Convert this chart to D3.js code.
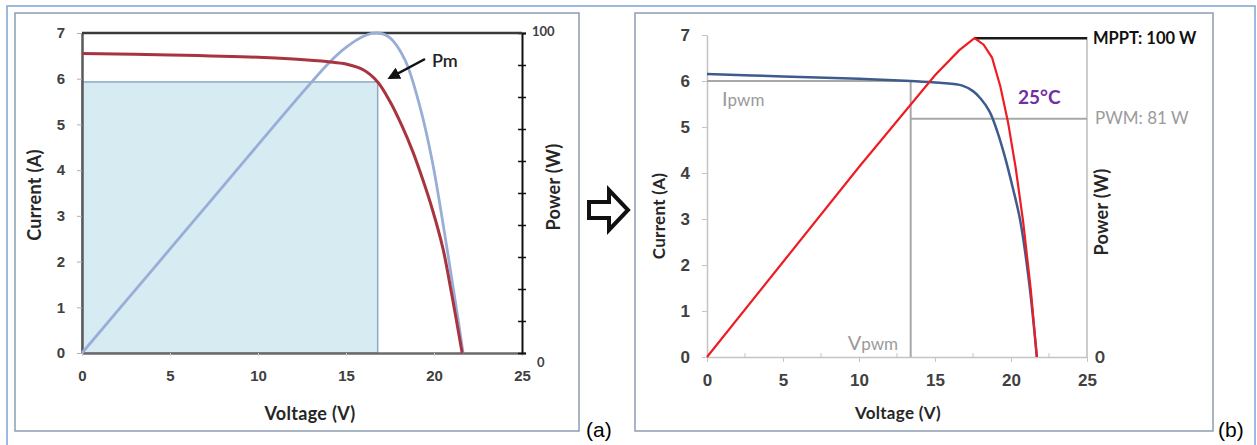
<!DOCTYPE html>
<html lang="en">
<head>
<meta charset="UTF-8">
<title>PV curves: PWM vs MPPT</title>
<script src="https://d3js.org/d3.v7.min.js"></script>
<style>
    body { margin: 0; background: #fff; font-family: Lato, "Open Sans", Arial, sans-serif; }
    .tick-label { font-weight: bold; fill: #404040; }
    .axis-title { font-weight: bold; fill: #262626; letter-spacing: 0.3px; }
</style>
</head>
<body>
<svg width="1257" height="445"></svg>
<script>
// ---- panel (a) data ----
const ivVoltA    = [0, 5, 10, 12, 14, 15, 16, 16.8, 17.5, 18.2, 18.8, 19.4, 19.9, 20.5, 21.0, 21.6];
const ivCurrentA = [6.55, 6.52, 6.47, 6.43, 6.37, 6.32, 6.19, 5.93, 5.5, 4.95, 4.4, 3.75, 3.15, 2.3, 1.3, 0];
const pvVoltA    = [0, 4, 8, 12, 14, 15, 16, 16.8, 17.5, 18.35, 19.2, 19.9, 20.7, 21.3, 21.65];
const pvPowerA   = [0, 26, 52, 78, 90.5, 95.5, 99, 100, 98.5, 91.6, 77, 60, 34, 13, 0];
const pmVolt = 16.8, pmCurrent = 5.93;

// ---- panel (b) data ----
const ivVoltB    = [0, 5, 10, 13.4, 15.3, 16.8, 17.5, 18.0, 18.6, 19.1, 19.6, 20.1, 20.6, 21.2, 21.7];
const ivCurrentB = [6.15, 6.1, 6.05, 6.0, 5.96, 5.9, 5.78, 5.62, 5.33, 4.9, 4.35, 3.7, 2.98, 1.6, 0];
const pvVoltB    = [0, 5, 10, 15, 16.6, 17.6, 18.2, 18.75, 19.3, 19.8, 20.3, 20.8, 21.3, 21.7];
const pvPowerB   = [0, 29.5, 59, 87.5, 95.3, 99, 97, 93, 84, 73, 59, 42, 21, 0];
const vPwm = 13.4, iPwm = 6.0, pwmLevel = 74;   // pwm power line as drawn
const mpptVolt = 17.6, mpptPower = 99;

const voltTicks = [0, 5, 10, 15, 20, 25];
const currentTicks = [0, 1, 2, 3, 4, 5, 6, 7];
const powerTicksA = d3.range(0, 101, 10);

const svg = d3.select("svg");
const intFmt = d3.format("d");

// outer border + panel frames
svg.append("path").attr("d", "M7,446 V6 H1255 V446")
    .attr("fill", "none").attr("stroke", "#7aa4d8").attr("stroke-width", 1.5);
svg.append("rect").attr("x", 15).attr("y", 13).attr("width", 564).attr("height", 418)
    .attr("fill", "none").attr("stroke", "#8d9cb2").attr("stroke-width", 1.5);
svg.append("rect").attr("x", 635).attr("y", 13).attr("width", 578).attr("height", 418)
    .attr("fill", "none").attr("stroke", "#8d9cb2").attr("stroke-width", 1.5);

// =================== panel (a) ===================
const xA = d3.scaleLinear().domain([0, 25]).range([82, 522]);
const yA = d3.scaleLinear().domain([0, 7]).range([353, 33]);
const pA = d3.scaleLinear().domain([0, 100]).range([353, 33]);
const gA = svg.append("g");

// shaded Pm rectangle
gA.append("rect")
    .attr("x", xA(0)).attr("y", yA(pmCurrent))
    .attr("width", xA(pmVolt) - xA(0)).attr("height", yA(0) - yA(pmCurrent))
    .attr("fill", "#d7ebf3").attr("stroke", "#8ea8c4").attr("stroke-width", 1.5);

// axes (a)
const axLeftA = gA.append("g").attr("transform", `translate(${xA(0)},0)`)
    .call(d3.axisLeft(yA).tickValues(currentTicks).tickFormat(intFmt).tickSize(5).tickPadding(12).tickSizeOuter(0));
axLeftA.select(".domain").attr("stroke", "#5a5a5a").attr("stroke-width", 2.5);
axLeftA.selectAll(".tick line").attr("stroke", "#b0b0b0");
axLeftA.selectAll(".tick text").attr("class", "tick-label").style("font-size", "15px");

const axBottomA = gA.append("g").attr("transform", `translate(0,${yA(0)})`)
    .call(d3.axisBottom(xA).tickValues(voltTicks).tickFormat(intFmt).tickSize(3).tickPadding(14).tickSizeOuter(0));
axBottomA.select(".domain").attr("stroke", "#6a6a6a").attr("stroke-width", 2.5);
axBottomA.selectAll(".tick line").attr("stroke", "#d0d0d0");
axBottomA.selectAll(".tick text").attr("class", "tick-label").style("font-size", "15px");

const axRightA = gA.append("g").attr("transform", `translate(${xA(25)},0)`)
    .call(d3.axisRight(pA).tickValues(powerTicksA).tickSize(4).tickFormat(""));
axRightA.select(".domain").attr("stroke", "#111").attr("stroke-width", 2);
axRightA.selectAll(".tick line").attr("stroke", "#111").attr("x1", -4).attr("stroke-width", 1.5);

gA.append("line").attr("x1", xA(0)).attr("x2", xA(25)).attr("y1", yA(7)).attr("y2", yA(7))
    .attr("stroke", "#3a3a3a").attr("stroke-width", 2.5);

gA.append("text").attr("class", "tick-label").attr("x", xA(25) + 10).attr("y", pA(100) + 3)
    .style("font-size", "13px").text("100");
gA.append("text").attr("class", "tick-label").attr("x", xA(25) + 15).attr("y", pA(0) + 14)
    .style("font-size", "13px").text("0");

// curves (a)
const smooth = d3.curveCatmullRom.alpha(0.5);
const lineIA = d3.line().x((d, i) => xA(ivVoltA[i])).y(d => yA(d)).curve(smooth);
const linePA = d3.line().x((d, i) => xA(pvVoltA[i])).y(d => pA(d)).curve(smooth);
gA.append("path").attr("d", linePA(pvPowerA)).attr("fill", "none")
    .attr("stroke", "#98aed6").attr("stroke-width", 2.8);
gA.append("path").attr("d", lineIA(ivCurrentA)).attr("fill", "none")
    .attr("stroke", "#a8343f").attr("stroke-width", 3);

// Pm annotation
svg.append("defs").append("marker").attr("id", "head")
    .attr("viewBox", "0 0 10 10").attr("refX", 8).attr("refY", 5)
    .attr("markerWidth", 5).attr("markerHeight", 5).attr("orient", "auto")
    .append("path").attr("d", "M0,0 L10,5 L0,10 z").attr("fill", "#111");
gA.append("line").attr("x1", 425).attr("y1", 59).attr("x2", xA(pmVolt) + 12).attr("y2", yA(pmCurrent) - 4)
    .attr("stroke", "#111").attr("stroke-width", 2.5).attr("marker-end", "url(#head)");
gA.append("text").attr("x", 432).attr("y", 67).attr("fill", "#222")
    .style("font-size", "18px").style("font-weight", "600").text("Pm");

// titles (a)
gA.append("text").attr("class", "axis-title").attr("text-anchor", "middle")
    .attr("transform", "translate(41,195) rotate(-90)").style("font-size", "18px").text("Current (A)");
gA.append("text").attr("class", "axis-title").attr("text-anchor", "middle")
    .attr("transform", "translate(560,187) rotate(-90)").style("font-size", "18px").text("Power (W)");
gA.append("text").attr("class", "axis-title").attr("text-anchor", "middle")
    .attr("x", 310).attr("y", 420).style("font-size", "18px").text("Voltage (V)");

// big outline arrow between panels
svg.append("path")
    .attr("d", "M589,202 H609 V190 L628,210 L609,230 V218 H589 Z")
    .attr("fill", "#fff").attr("stroke", "#111").attr("stroke-width", 4).attr("stroke-linejoin", "miter");

svg.append("text").attr("x", 586).attr("y", 437).style("font-size", "21px")
    .style("font-family", "Liberation Sans, Arial, sans-serif").text("(a)");
svg.append("text").attr("x", 1218).attr("y", 437).style("font-size", "21px")
    .style("font-family", "Liberation Sans, Arial, sans-serif").text("(b)");

// =================== panel (b) ===================
const xB = d3.scaleLinear().domain([0, 25]).range([707, 1087]);
const yB = d3.scaleLinear().domain([0, 7]).range([357, 35]);
const pB = d3.scaleLinear().domain([0, 100]).range([357, 35]);
const gB = svg.append("g");

const axLeftB = gB.append("g").attr("transform", `translate(${xB(0)},0)`)
    .call(d3.axisLeft(yB).tickValues(currentTicks).tickFormat(intFmt).tickSize(5).tickPadding(12).tickSizeOuter(0));
axLeftB.select(".domain").attr("stroke", "#c4c4c4").attr("stroke-width", 1.5);
axLeftB.selectAll(".tick line").attr("stroke", "#c4c4c4");
axLeftB.selectAll(".tick text").attr("class", "tick-label").style("font-size", "17px");

const axBottomB = gB.append("g").attr("transform", `translate(0,${yB(0)})`)
    .call(d3.axisBottom(xB).tickValues(voltTicks).tickFormat(intFmt).tickSize(5).tickPadding(12).tickSizeOuter(0));
axBottomB.select(".domain").attr("stroke", "#c4c4c4").attr("stroke-width", 1.5);
axBottomB.selectAll(".tick line").attr("stroke", "#c4c4c4");
axBottomB.selectAll(".tick text").attr("class", "tick-label").style("font-size", "17px");
// minor ticks above the axis
gB.selectAll(".minor").data([2.5, 7.5, 12.5, 17.5, 22.5]).join("line")
    .attr("x1", d => xB(d)).attr("x2", d => xB(d)).attr("y1", yB(0)).attr("y2", yB(0) - 4)
    .attr("stroke", "#c4c4c4");

gB.append("line").attr("x1", xB(25)).attr("x2", xB(25)).attr("y1", pB(100) + 2).attr("y2", pB(0))
    .attr("stroke", "#bdbdbd").attr("stroke-width", 1.5);
gB.append("text").attr("class", "tick-label").attr("x", xB(25) + 8).attr("y", pB(0) + 6)
    .style("font-size", "17px").text("0");

// pwm guide lines
const guide = "#a8a8a8";
gB.append("line").attr("x1", xB(vPwm)).attr("x2", xB(vPwm)).attr("y1", yB(0)).attr("y2", yB(iPwm))
    .attr("stroke", guide).attr("stroke-width", 2);
gB.append("line").attr("x1", xB(0)).attr("x2", xB(vPwm)).attr("y1", yB(iPwm)).attr("y2", yB(iPwm))
    .attr("stroke", guide).attr("stroke-width", 2);
gB.append("line").attr("x1", xB(vPwm)).attr("x2", xB(25)).attr("y1", pB(pwmLevel)).attr("y2", pB(pwmLevel))
    .attr("stroke", guide).attr("stroke-width", 2);
// mppt line
gB.append("line").attr("x1", xB(mpptVolt)).attr("x2", xB(25)).attr("y1", pB(mpptPower)).attr("y2", pB(mpptPower))
    .attr("stroke", "#1a1a1a").attr("stroke-width", 2.5);

// curves (b)
const lineIB = d3.line().x((d, i) => xB(ivVoltB[i])).y(d => yB(d)).curve(smooth);
const linePB = d3.line().x((d, i) => xB(pvVoltB[i])).y(d => pB(d)).curve(d3.curveLinear);
gB.append("path").attr("d", lineIB(ivCurrentB)).attr("fill", "none")
    .attr("stroke", "#3d5b8c").attr("stroke-width", 2.5);
gB.append("path").attr("d", linePB(pvPowerB)).attr("fill", "none")
    .attr("stroke", "#ee1d24").attr("stroke-width", 2.2);

// labels (b)
const lbl = gB.append("text").attr("x", 722).attr("y", 106).attr("fill", "#9a9a9a").style("font-size", "20px");
lbl.append("tspan").text("I");
lbl.append("tspan").style("font-size", "17px").text("pwm");
const vl = gB.append("text").attr("x", 898).attr("y", 350).attr("text-anchor", "end")
    .attr("fill", "#9a9a9a").style("font-size", "20px");
vl.append("tspan").text("V");
vl.append("tspan").style("font-size", "17px").text("pwm");

gB.append("text").attr("x", 1093).attr("y", 44).attr("fill", "#111")
    .style("font-size", "16.5px").style("font-weight", "bold").text("MPPT: 100 W");
gB.append("text").attr("x", 1095).attr("y", 124).attr("fill", "#9a9a9a")
    .style("font-size", "17px").text("PWM: 81 W");
gB.append("text").attr("x", 1018).attr("y", 104).attr("fill", "#7030a0")
    .style("font-size", "19px").style("font-weight", "bold").text("25°C");

gB.append("text").attr("class", "axis-title").attr("text-anchor", "middle")
    .attr("transform", "translate(665,216) rotate(-90)").style("font-size", "17px").text("Current (A)");
gB.append("text").attr("class", "axis-title").attr("text-anchor", "middle")
    .attr("transform", "translate(1108,212) rotate(-90)").style("font-size", "18px").text("Power (W)");
gB.append("text").attr("class", "axis-title").attr("text-anchor", "middle")
    .attr("x", 898).attr("y", 419).style("font-size", "17px").text("Voltage (V)");
</script>
</body>
</html>
